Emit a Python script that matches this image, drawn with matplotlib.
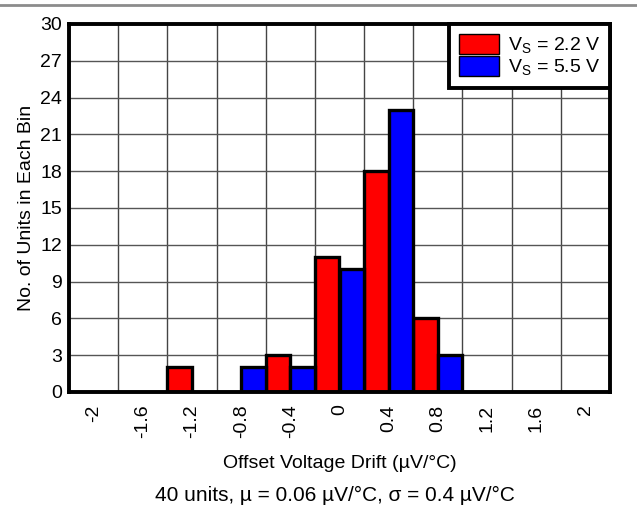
import numpy as np
import matplotlib.pyplot as plt
from matplotlib.patches import Patch
from matplotlib.lines import Line2D

plt.rcParams['font.family'] = ['Liberation Sans', 'DejaVu Sans']
plt.rcParams['font.size'] = 14

# %% Data
bins = ['-2', '-1.6', '-1.2', '-0.8', '-0.4', '0', '0.4', '0.8', '1.2', '1.6', '2']
count_22 = [0, 0, 2, 0, 3, 11, 18, 6, 0, 0, 0]   # Vs = 2.2 V
count_55 = [0, 0, 0, 2, 2, 10, 23, 3, 0, 0, 0]   # Vs = 5.5 V
yticks = [0, 3, 6, 9, 12, 15, 18, 21, 24, 27, 30]

# %% Plot
fig = plt.figure(figsize=(6.37, 5.08), dpi=100)
ax = fig.add_axes([69/637, 1 - 392/508, 541/637, 368/508])

x = np.arange(len(bins))
ax.bar(x - 0.5, count_22, width=0.5, align='edge', color='#ff0000',
       edgecolor='black', linewidth=2.4, zorder=3)
ax.bar(x, count_55, width=0.5, align='edge', color='#0000ff',
       edgecolor='black', linewidth=2.4, zorder=3)

ax.set_xlim(-0.5, len(bins) - 0.5)
ax.set_ylim(0, 30)
ax.set_xticks(x)
ax.set_xticklabels(bins, rotation=90)
ax.set_xticks(np.arange(len(bins) + 1) - 0.5, minor=True)
ax.set_yticks(yticks)
ax.tick_params(axis='both', which='both', length=0)
ax.tick_params(axis='x', pad=9)
ax.tick_params(axis='y', pad=5)

ax.grid(True, axis='x', which='minor', color='#444444', lw=1.0, zorder=0)
ax.grid(True, axis='y', which='major', color='#555555', lw=1.0, zorder=0)
ax.grid(False, axis='x', which='major')
for s in ax.spines.values():
    s.set_linewidth(2.8)
    s.set_zorder(5)

ax.set_ylabel('No. of Units in Each Bin')
ax.yaxis.set_label_coords(-0.062, 0.5)
ax.set_xlabel('Offset Voltage Drift (µV/°C)')
ax.xaxis.set_label_coords(0.5, -0.17)
fig.text(335/637, 1 - 495/508, '40 units, µ = 0.06 µV/°C, σ = 0.4 µV/°C',
         ha='center', va='center', fontsize=15)

handles = [Patch(facecolor='#ff0000', edgecolor='black', lw=1.0),
           Patch(facecolor='#0000ff', edgecolor='black', lw=1.0)]
leg = ax.legend(handles, ['V$_\\mathregular{S}$ = 2.2 V', 'V$_\\mathregular{S}$ = 5.5 V'],
                loc='upper right', borderaxespad=0, fancybox=False,
                edgecolor='black', framealpha=1, labelspacing=0,
                handlelength=2.05, handleheight=1.25, handletextpad=0.46,
                borderpad=0.5)
leg.get_frame().set_linewidth(2.8)
leg.set_zorder(6)

# top rule
fig.add_artist(Line2D([0, 1], [1 - 5/508, 1 - 5/508], transform=fig.transFigure,
                      color='#8c8c8c', lw=2))

plt.savefig('out.png')
